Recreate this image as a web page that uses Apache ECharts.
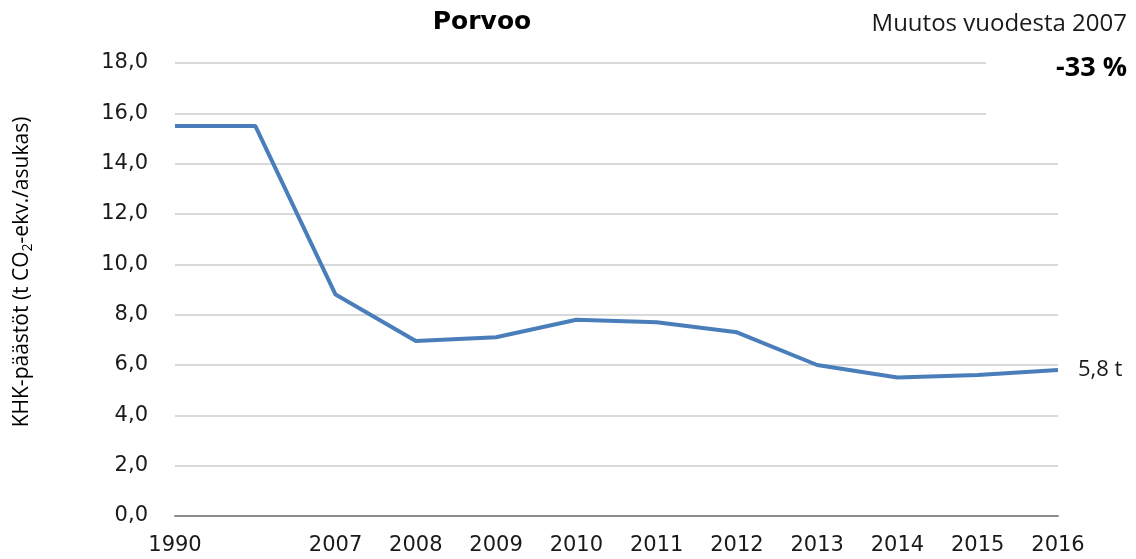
<!DOCTYPE html>
<html>
<head>
<meta charset="utf-8">
<script src="https://cdn.jsdelivr.net/npm/echarts@6/dist/echarts.min.js"></script>
<style>
html,body{margin:0;padding:0;background:#fff;}
#chart{width:1136px;height:559px;}
</style>
</head>
<body>
<div id="chart"></div>
<script>
var categories = ['1990', '', '2007', '2008', '2009', '2010', '2011', '2012', '2013', '2014', '2015', '2016'];
var emissions = [15.5, 15.5, 8.8, 6.95, 7.1, 7.8, 7.7, 7.3, 6.0, 5.5, 5.6, 5.8];
var titleText = 'Porvoo';
var changeLabel = 'Muutos vuodesta 2007';
var changeValue = '-33 %';
var endLabel = '5,8 t';

var chart = echarts.init(document.getElementById('chart'));
chart.setOption({
  animation: false,
  backgroundColor: '#ffffff',
  title: {
    text: titleText,
    left: 477,
    textAlign: 'center',
    top: 5,
    textStyle: {fontFamily: 'DejaVu Sans', fontWeight: 'bold', fontSize: 25, color: '#000'}
  },
  grid: {left: 175, right: 78, top: 63, bottom: 43, containLabel: false},
  xAxis: {
    type: 'category',
    data: categories,
    boundaryGap: false,
    axisLine: {lineStyle: {color: '#8c8c8c', width: 2}},
    axisTick: {show: false},
    axisLabel: {fontFamily: 'DejaVu Sans', fontSize: 21, color: '#1a1a1a', margin: 19, interval: 0}
  },
  yAxis: {
    type: 'value',
    min: 0,
    max: 18,
    interval: 2,
    axisLine: {show: false},
    axisTick: {show: false},
    splitLine: {lineStyle: {color: '#d9d9d9', width: 2}},
    axisLabel: {
      fontFamily: 'DejaVu Sans', fontSize: 21, color: '#1a1a1a', margin: 27,
      formatter: function (v) { return v.toFixed(1).replace('.', ','); }
    }
  },
  series: [{
    type: 'line',
    data: emissions,
    symbol: 'none',
    lineStyle: {color: '#4a7ebb', width: 4},
    itemStyle: {color: '#4a7ebb'},
    endLabel: {
      show: true,
      formatter: function () { return endLabel; },
      fontFamily: 'Open Sans', fontSize: 22, color: '#1a1a1a', distance: 20
    },
    z: 3
  }],
  graphic: [
    {
      type: 'rect', left: 986, top: 50, z: 1,
      shape: {width: 150, height: 80},
      style: {fill: '#ffffff'}
    },
    {
      type: 'text', right: 9, top: 12, z: 10,
      style: {text: changeLabel, fontFamily: 'Open Sans', fontSize: 24, fill: '#1a1a1a', textAlign: 'right'}
    },
    {
      type: 'text', right: 9, top: 55, z: 10,
      style: {text: changeValue, fontFamily: 'Open Sans', fontWeight: 'bold', fontSize: 27, fill: '#000', textAlign: 'right'}
    },
    {
      type: 'text', x: 22, y: 272, z: 10,
      rotation: Math.PI / 2,
      style: {
        text: '{a|KHK-päästöt (t CO}{s|2}{a|-ekv./asukas)}',
        textAlign: 'center',
        textVerticalAlign: 'middle',
        rich: {
          a: {fontFamily: 'Open Sans', fontSize: 21, fill: '#000', color: '#000'},
          s: {fontFamily: 'Open Sans', fontSize: 14, fill: '#000', color: '#000', padding: [12, 0, 0, 0]}
        }
      }
    }
  ]
});
</script>
</body>
</html>
